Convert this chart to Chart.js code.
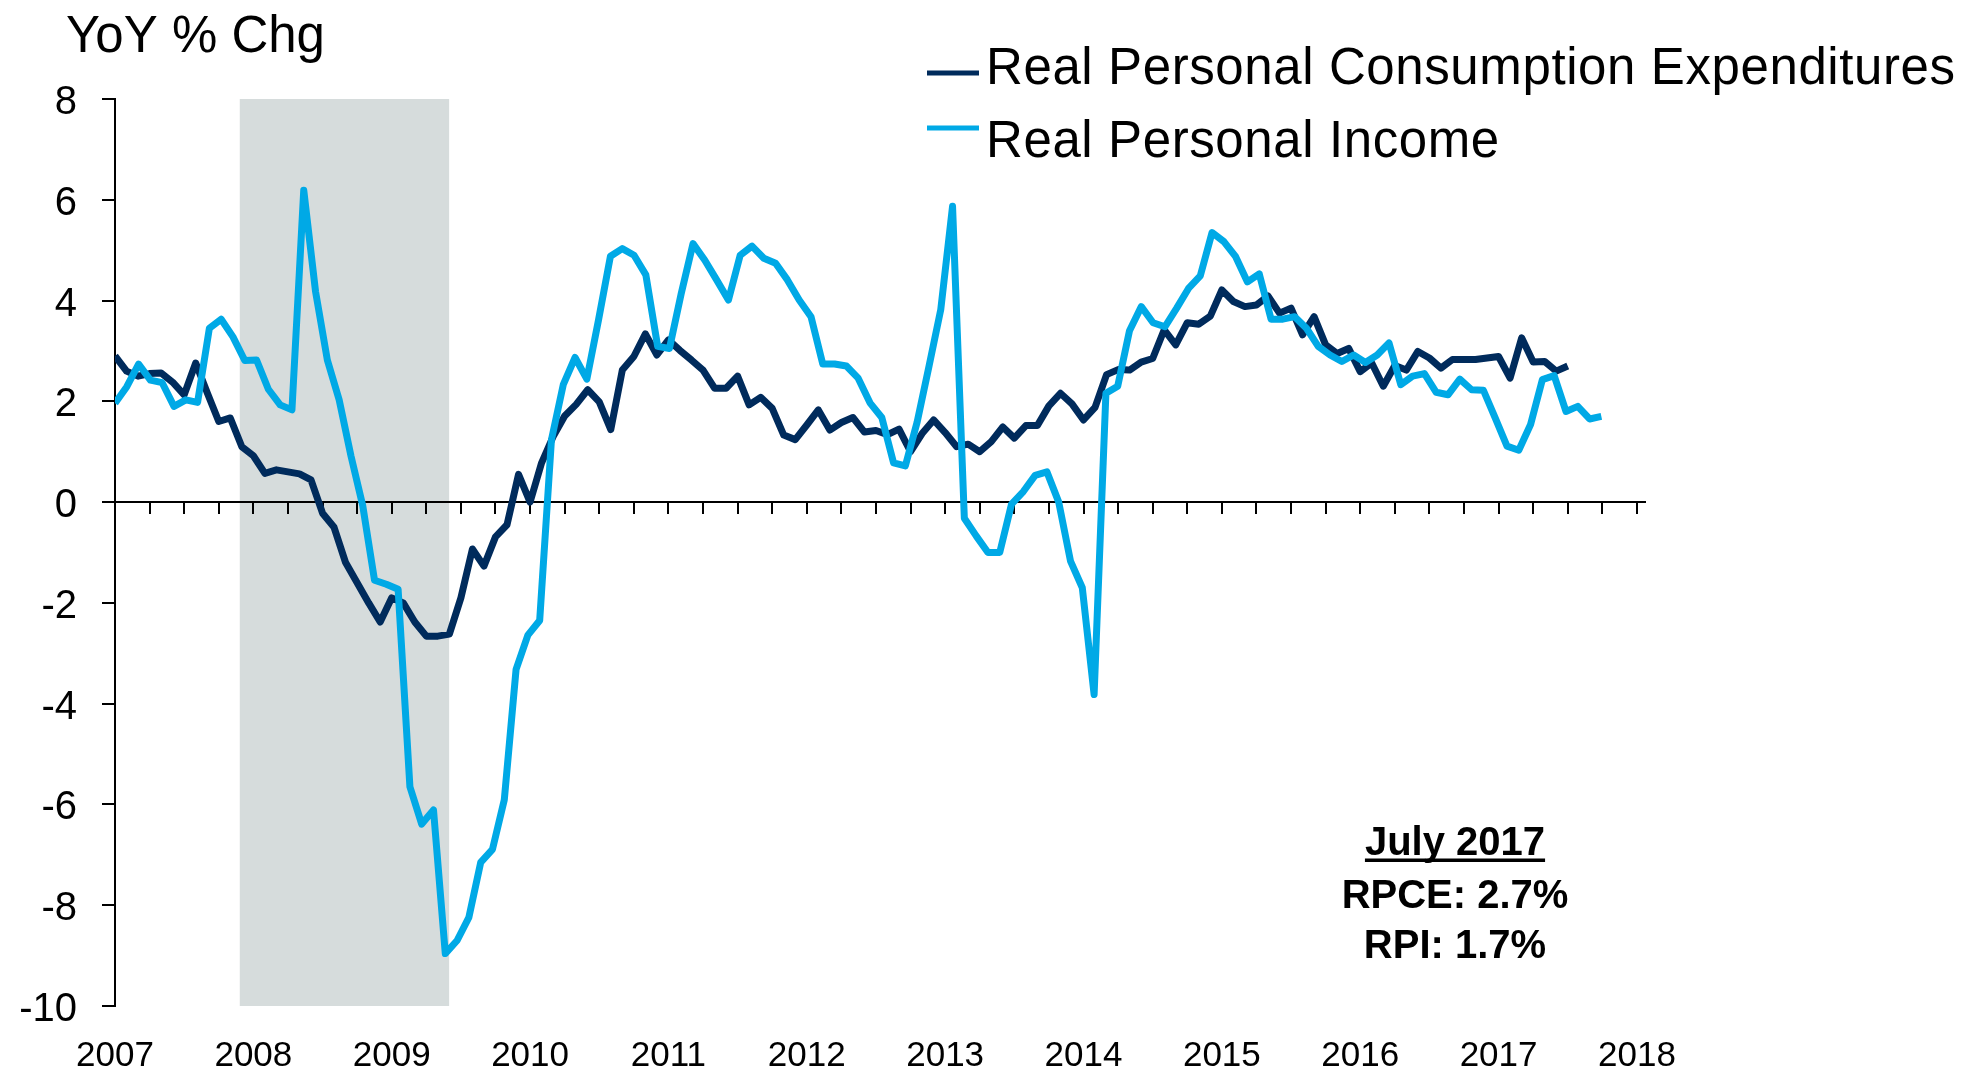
<!DOCTYPE html>
<html>
<head>
<meta charset="utf-8">
<title>Real PCE vs Real Personal Income</title>
<script src="https://cdn.jsdelivr.net/npm/chart.js@4.4.1/dist/chart.umd.min.js"></script>
<style>
  html, body { margin: 0; padding: 0; background: #fff; }
  #wrap { width: 1979px; height: 1077px; position: relative; }
</style>
</head>
<body>
<div id="wrap"><canvas id="pceChart"></canvas></div>
<script>
// --- 1. DATA (YoY % change, monthly, Jan 2007 .. Jul 2017) ---
const startYear = 2007;
const monthNames = ['January', 'February', 'March', 'April', 'May', 'June', 'July',
                    'August', 'September', 'October', 'November', 'December'];
const yearLabels = ['2007', '2008', '2009', '2010', '2011', '2012',
                    '2013', '2014', '2015', '2016', '2017', '2018'];
const yTickMin = -10;
const yTickMax = 8;

// Real Personal Consumption Expenditures
const rpce = [
  2.9, 2.6, 2.5, 2.55, 2.56, 2.38, 2.13, 2.76, 2.17, 1.6, 1.67, 1.1,          // 2007
  0.92, 0.57, 0.64, 0.6, 0.56, 0.44, -0.22, -0.5, -1.2, -1.6, -2.0, -2.38,    // 2008
  -1.9, -2.0, -2.38, -2.66, -2.66, -2.62, -1.9, -0.93, -1.27, -0.69, -0.45, 0.55, // 2009
  0.0, 0.78, 1.3, 1.71, 1.94, 2.23, 1.99, 1.44, 2.62, 2.89, 3.34, 2.92,       // 2010
  3.22, 3.01, 2.82, 2.62, 2.26, 2.26, 2.5, 1.93, 2.08, 1.86, 1.33, 1.24,      // 2011
  1.53, 1.83, 1.43, 1.58, 1.68, 1.39, 1.42, 1.34, 1.45, 1.0, 1.36, 1.63,      // 2012
  1.38, 1.1, 1.15, 1.0, 1.2, 1.49, 1.27, 1.52, 1.52, 1.91, 2.16, 1.95,        // 2013
  1.63, 1.88, 2.53, 2.63, 2.62, 2.78, 2.85, 3.42, 3.12, 3.56, 3.53, 3.69,     // 2014
  4.21, 3.98, 3.88, 3.91, 4.09, 3.75, 3.85, 3.32, 3.68, 3.12, 2.95, 3.05,     // 2015
  2.59, 2.76, 2.3, 2.71, 2.62, 2.99, 2.86, 2.66, 2.83, 2.83, 2.83, 2.86,      // 2016
  2.89, 2.46, 3.26, 2.78, 2.79, 2.6, 2.7                                      // 2017
];

// Real Personal Income
const rpi = [
  1.96, 2.29, 2.74, 2.42, 2.37, 1.9, 2.03, 1.98, 3.45, 3.63, 3.28, 2.81,      // 2007
  2.82, 2.24, 1.93, 1.83, 6.19, 4.18, 2.82, 2.03, 0.92, -0.07, -1.55, -1.63,  // 2008
  -1.73, -5.65, -6.39, -6.11, -8.96, -8.7, -8.24, -7.15, -6.89, -5.91, -3.32, -2.64, // 2009
  -2.35, 1.24, 2.33, 2.87, 2.44, 3.63, 4.88, 5.03, 4.9, 4.51, 3.09, 3.05,     // 2010
  4.14, 5.13, 4.8, 4.41, 4.01, 4.9, 5.08, 4.84, 4.74, 4.41, 4.01, 3.68,       // 2011
  2.74, 2.74, 2.7, 2.46, 1.97, 1.68, 0.78, 0.72, 1.59, 2.69, 3.82, 5.87,      // 2012
  -0.32, -0.67, -1.0, -1.0, -0.04, 0.21, 0.53, 0.6, 0.0, -1.17, -1.7, -3.82,  // 2013
  2.16, 2.3, 3.4, 3.88, 3.56, 3.48, 3.85, 4.24, 4.49, 5.35, 5.17, 4.87,       // 2014
  4.37, 4.53, 3.63, 3.63, 3.68, 3.45, 3.09, 2.92, 2.79, 2.92, 2.77, 2.92,     // 2015
  3.16, 2.33, 2.5, 2.55, 2.18, 2.13, 2.44, 2.23, 2.22, 1.67, 1.11, 1.03,      // 2016
  1.54, 2.43, 2.51, 1.8, 1.9, 1.65, 1.7                                       // 2017
];

// recession band (Dec 2007 - Jun 2009), months counted from Jan 2007
const recessionBand = [10.8, 29.0];

// --- 2. STYLE ---
const FONT = "'Liberation Sans', Arial, sans-serif";
const NAVY = '#002B5C';
const CYAN = '#00A9E6';
const SHADE = '#D6DCDC';

Chart.defaults.font.family = FONT;
Chart.defaults.color = '#000';

const toPoints = arr => arr.map((v, i) => ({ x: i, y: v }));

// title, legend and latest-reading note are drawn straight onto the canvas
const chartText = {
    id: 'chartText',
    afterDraw(chart) {
        const c = chart.ctx;
        c.save();
        c.fillStyle = '#000';
        c.textAlign = 'left';
        c.textBaseline = 'alphabetic';

        c.font = `51px ${FONT}`;
        c.fillText('YoY % Chg', 66, 52);

        // legend rows: [dataset index, swatch y, text baseline]
        const rows = [[1, 73, 84], [0, 128, 157]];
        c.font = `51px ${FONT}`;
        c.letterSpacing = '0.6px';
        rows.forEach(([idx, sy, by]) => {
            const ds = chart.data.datasets[idx];
            c.strokeStyle = ds.borderColor;
            c.lineWidth = 5;
            c.beginPath();
            c.moveTo(927, sy);
            c.lineTo(979, sy);
            c.stroke();
            c.fillText(ds.label, 986, by);
        });
        c.letterSpacing = '0px';

        // latest month readings
        const last = rpce.length - 1;
        const heading = monthNames[last % 12] + ' ' + (startYear + Math.floor(last / 12));
        const cx = 1455;
        c.textAlign = 'center';
        c.font = `bold 40px ${FONT}`;
        c.fillText(heading, cx, 855);
        const w = c.measureText(heading).width;
        c.fillRect(cx - w / 2, 858.5, w, 3.5);
        c.fillText('RPCE: ' + rpce[last].toFixed(1) + '%', cx, 908);
        c.fillText('RPI: ' + rpi[last].toFixed(1) + '%', cx, 958);
        c.restore();
    }
};

// --- 3. CHART ---
function initChart() {
    new Chart(document.getElementById('pceChart'), {
        type: 'line',
        data: {
            datasets: [
                { label: 'Real Personal Income', data: toPoints(rpi), xAxisID: 'x2',
                  borderColor: CYAN, borderWidth: 7, fill: false, order: 0 },
                { label: 'Real Personal Consumption Expenditures', data: toPoints(rpce), xAxisID: 'x',
                  borderColor: NAVY, borderWidth: 7, fill: false, order: 1 },
                { label: 'Recession',
                  data: [{ x: recessionBand[0], y: yTickMax }, { x: recessionBand[1], y: yTickMax }],
                  xAxisID: 'x', borderWidth: 0, backgroundColor: SHADE, fill: 'start', order: 2 }
            ]
        },
        options: {
            responsive: true,
            maintainAspectRatio: false,
            animation: false,
            layout: { padding: { left: 0, top: 99, right: 334, bottom: 0 } },
            elements: {
                point: { radius: 0 },
                line: { tension: 0, borderJoinStyle: 'round' }
            },
            plugins: {
                legend: { display: false },
                tooltip: { enabled: false },
                filler: { drawTime: 'beforeDraw' } // band sits behind the axes
            },
            scales: {
                y: {
                    type: 'linear', position: 'left', min: yTickMin, max: yTickMax,
                    afterFit: s => { s.width = 115; },
                    border: { color: '#000', width: 2 },
                    grid: { drawOnChartArea: false, color: '#000', lineWidth: 2, tickLength: 13 },
                    ticks: { stepSize: 2, font: { size: 40 }, padding: 25, labelOffset: 4, color: '#000' }
                },
                // zero line with quarterly tick marks
                x: {
                    type: 'linear', position: { y: 0 }, min: 0, max: 132.7,
                    border: { color: '#000', width: 2 },
                    grid: { drawOnChartArea: false, color: '#000', lineWidth: 2, tickLength: 11 },
                    ticks: { display: false, stepSize: 3, includeBounds: false }
                },
                // income series runs on its own, slightly shorter category axis
                x2: { type: 'linear', display: false, min: 0, max: 129.7 },
                // year labels under the plot
                xl: {
                    type: 'linear', position: 'bottom', min: 0, max: 132.7,
                    afterFit: s => { s.height = 71; },
                    border: { display: false },
                    grid: { display: false },
                    ticks: {
                        stepSize: 12, includeBounds: false, autoSkip: false, maxRotation: 0,
                        padding: 21, font: { size: 35 }, color: '#000',
                        callback: v => yearLabels[v / 12]
                    }
                }
            }
        },
        plugins: [chartText]
    });
}

window.onload = initChart;
</script>
</body>
</html>
